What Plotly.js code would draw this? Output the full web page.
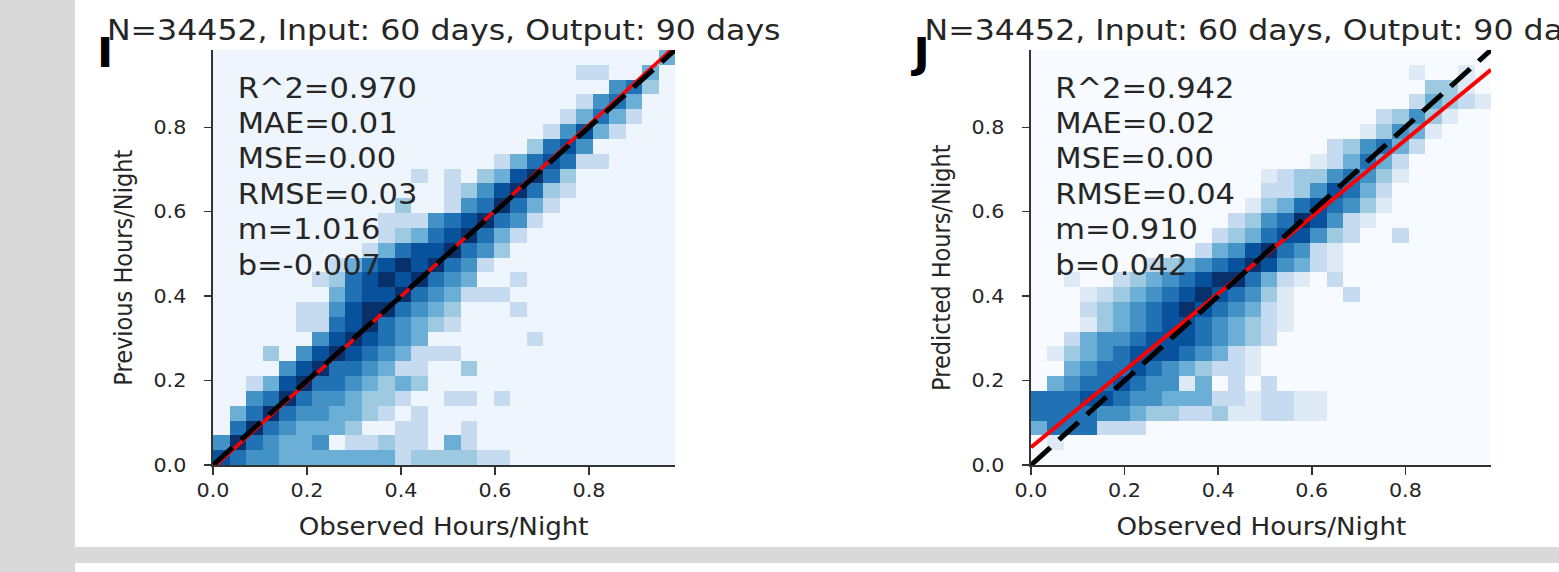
<!DOCTYPE html>
<html>
<head>
<meta charset="utf-8">
<script src="https://cdn.plot.ly/plotly-3.0.1.min.js"></script>
<style>
  html, body { margin: 0; padding: 0; }
  body { width: 1559px; height: 572px; overflow: hidden; position: relative; background: #d9d9d9; }
  .sheet { position: absolute; background: #ffffff; }
  #chart { position: absolute; left: 0; top: 0; width: 1430px; height: 572px;
           transform: scaleX(1.0902); transform-origin: 0 0; }
</style>
</head>
<body>
<div class="sheet" style="left:75px;top:0;width:1484px;height:547px;"></div>
<div class="sheet" style="left:75px;top:563px;width:1484px;height:9px;"></div>
<div id="chart"></div>
<script>
// 2-D histogram: 28 x 28 bins over [0, histMax] on both axes
const binCount = 28;
const histMax = 0.983;

const tickVals = [0, 0.2, 0.4, 0.6, 0.8];
const tickText = ['0.0', '0.2', '0.4', '0.6', '0.8'];

const titleText = 'N=34452, Input: 60 days, Output: 90 days';
const panelLetters = ['I', 'J'];
const xLabels = ['Observed Hours/Night', 'Observed Hours/Night'];
const yLabels = ['Previous Hours/Night', 'Predicted Hours/Night'];

// fit statistics printed in each panel
const statsI = ['R^2=0.970', 'MAE=0.01', 'MSE=0.00', 'RMSE=0.03', 'm=1.016', 'b=-0.007'];
const statsJ = ['R^2=0.942', 'MAE=0.02', 'MSE=0.00', 'RMSE=0.04', 'm=0.910', 'b=0.042'];
const slopeI = 1.016, interceptI = -0.007;
const slopeJ = 0.910, interceptJ = 0.042;

// density level per bin (0 = empty .. 8 = densest); row 0 is the bottom row
const densityI = [
  [7,6,5,5,4,4,4,4,4,4,4,2,3,3,3,3,2,2,0,0,0,0,0,0,0,0,0,0],
  [5,8,6,5,4,4,5,0,2,2,3,2,2,0,4,2,0,0,0,0,0,0,0,0,0,0,0,0],
  [0,6,8,6,5,4,4,4,3,0,0,2,2,0,0,2,0,0,0,0,0,0,0,0,0,0,0,0],
  [0,4,6,8,6,5,5,4,4,3,2,0,2,0,0,0,0,0,0,0,0,0,0,0,0,0,0,0],
  [0,0,5,6,8,6,5,5,4,3,3,2,0,0,2,2,0,2,0,0,0,0,0,0,0,0,0,0],
  [0,0,2,4,7,8,6,6,5,4,3,4,3,0,0,0,0,0,0,0,0,0,0,0,0,0,0,0],
  [0,0,0,0,5,7,8,6,6,5,4,2,2,0,0,3,0,0,0,0,0,0,0,0,0,0,0,0],
  [0,0,0,3,0,5,7,8,7,6,5,4,2,2,2,0,0,0,0,0,0,0,0,0,0,0,0,0],
  [0,0,0,0,0,0,5,7,8,7,6,5,4,0,0,0,0,0,0,2,0,0,0,0,0,0,0,0],
  [0,0,0,0,0,2,2,6,7,8,6,5,4,3,2,0,0,0,0,0,0,0,0,0,0,0,0,0],
  [0,0,0,0,0,2,2,5,7,8,8,6,5,4,3,0,0,0,2,0,0,0,0,0,0,0,0,0],
  [0,0,0,0,0,0,0,4,6,7,7,8,6,5,4,2,2,2,0,0,0,0,0,0,0,0,0,0],
  [0,0,0,0,0,0,2,3,6,7,8,7,8,6,5,4,0,0,2,0,0,0,0,0,0,0,0,0],
  [0,0,0,0,0,0,0,2,4,6,7,8,7,8,6,5,2,0,0,0,0,0,0,0,0,0,0,0],
  [0,0,0,0,0,0,0,0,0,2,4,6,7,7,8,6,5,3,0,0,0,0,0,0,0,0,0,0],
  [0,0,0,0,0,0,0,0,0,0,2,3,4,6,7,8,6,4,2,0,0,0,0,0,0,0,0,0],
  [0,0,0,0,0,0,0,0,0,0,2,2,2,5,6,7,8,6,5,2,0,0,0,0,0,0,0,0],
  [0,0,0,0,0,0,0,0,0,0,0,3,0,0,2,5,6,8,6,4,2,0,0,0,0,0,0,0],
  [0,0,0,0,0,0,0,0,0,0,0,0,0,0,2,3,5,7,8,6,3,2,0,0,0,0,0,0],
  [0,0,0,0,0,0,0,0,0,0,0,0,2,0,2,0,3,4,7,8,6,3,0,0,0,0,0,0],
  [0,0,0,0,0,0,0,0,0,0,0,0,0,0,0,0,0,2,4,6,7,6,2,2,0,0,0,0],
  [0,0,0,0,0,0,0,0,0,0,0,0,0,0,0,0,0,0,0,3,6,7,5,0,0,0,0,0],
  [0,0,0,0,0,0,0,0,0,0,0,0,0,0,0,0,0,0,0,0,2,5,7,4,2,0,0,0],
  [0,0,0,0,0,0,0,0,0,0,0,0,0,0,0,0,0,0,0,0,0,2,4,6,4,2,0,0],
  [0,0,0,0,0,0,0,0,0,0,0,0,0,0,0,0,0,0,0,0,0,0,2,5,6,4,0,0],
  [0,0,0,0,0,0,0,0,0,0,0,0,0,0,0,0,0,0,0,0,0,0,0,0,5,6,3,0],
  [0,0,0,0,0,0,0,0,0,0,0,0,0,0,0,0,0,0,0,0,0,0,2,2,0,0,4,0],
  [0,0,0,0,0,0,0,0,0,0,0,0,0,0,0,0,0,0,0,0,0,0,0,0,0,0,0,4]
];

const densityJ = [
  [0,0,0,0,0,0,0,0,0,0,0,0,0,0,0,0,0,0,0,0,0,0,0,0,0,0,0,0],
  [0,1,0,0,0,0,0,0,0,0,0,0,0,0,0,0,0,0,0,0,0,0,0,0,0,0,0,0],
  [4,6,6,6,2,2,2,0,0,0,0,0,0,0,0,0,0,0,0,0,0,0,0,0,0,0,0,0],
  [6,6,6,6,5,5,4,3,3,2,2,3,1,1,2,2,1,1,0,0,0,0,0,0,0,0,0,0],
  [6,6,6,7,7,6,5,5,4,4,4,2,2,1,2,2,1,1,0,0,0,0,0,0,0,0,0,0],
  [0,4,5,6,6,7,6,5,5,1,4,0,2,0,2,0,0,0,0,0,0,0,0,0,0,0,0,0],
  [0,0,4,5,6,6,7,6,5,4,3,2,2,1,0,0,0,0,0,0,0,0,0,0,0,0,0,0],
  [0,1,3,4,5,6,7,7,7,6,5,4,2,1,0,0,0,0,0,0,0,0,0,0,0,0,0,0],
  [0,0,2,4,5,5,6,7,7,7,6,5,4,3,2,0,0,0,0,0,0,0,0,0,0,0,0,0],
  [0,0,0,1,3,4,5,6,7,7,6,5,4,3,2,1,0,0,0,0,0,0,0,0,0,0,0,0],
  [0,0,0,2,3,4,5,6,7,8,7,6,5,4,2,1,0,0,0,0,0,0,0,0,0,0,0,0],
  [0,0,0,1,2,3,4,5,6,7,8,7,6,5,3,1,0,0,0,2,0,0,0,0,0,0,0,0],
  [0,0,1,0,0,2,3,4,5,6,7,8,8,6,4,2,1,0,2,0,0,0,0,0,0,0,0,0],
  [0,0,0,0,0,0,0,2,3,4,5,6,7,8,7,5,4,2,1,0,0,0,0,0,0,0,0,0],
  [0,0,0,0,0,0,0,0,0,0,2,4,5,7,8,6,5,2,1,0,0,0,0,0,0,0,0,0],
  [0,0,0,0,0,0,0,0,0,0,0,2,3,4,6,7,7,5,3,2,0,0,2,0,0,0,0,0],
  [0,0,0,0,0,0,0,0,0,0,0,0,2,3,5,6,8,7,5,2,1,0,0,0,0,0,0,0],
  [0,0,0,0,0,0,0,0,0,0,0,0,0,1,3,4,6,7,6,5,3,1,0,0,0,0,0,0],
  [0,0,0,0,0,0,0,0,0,0,0,0,0,0,2,2,3,5,7,6,4,2,0,0,0,0,0,0],
  [0,0,0,0,0,0,0,0,0,0,0,0,0,0,1,2,3,3,5,6,5,3,1,0,0,0,0,0],
  [0,0,0,0,0,0,0,0,0,0,0,0,0,0,0,0,0,1,2,4,6,4,2,0,0,0,0,0],
  [0,0,0,0,0,0,0,0,0,0,0,0,0,0,0,0,0,0,2,3,5,6,4,2,0,0,0,0],
  [0,0,0,0,0,0,0,0,0,0,0,0,0,0,0,0,0,0,0,0,1,3,5,4,1,0,0,0],
  [0,0,0,0,0,0,0,0,0,0,0,0,0,0,0,0,0,0,0,0,0,2,3,5,3,1,0,0],
  [0,0,0,0,0,0,0,0,0,0,0,0,0,0,0,0,0,0,0,0,0,0,0,2,4,3,2,1],
  [0,0,0,0,0,0,0,0,0,0,0,0,0,0,0,0,0,0,0,0,0,0,0,0,3,3,1,0],
  [0,0,0,0,0,0,0,0,0,0,0,0,0,0,0,0,0,0,0,0,0,0,0,1,0,0,1,0],
  [0,0,0,0,0,0,0,0,0,0,0,0,0,0,0,0,0,0,0,0,0,0,0,0,0,0,0,0]
];

// matplotlib "Blues"
function blues(first) {
  return [[0, first], [0.125, '#deebf7'], [0.25, '#c6dbef'], [0.375, '#9ecae1'],
          [0.5, '#6baed6'], [0.625, '#4292c6'], [0.75, '#2171b5'],
          [0.875, '#08519c'], [1, '#08306b']];
}

const W = 1559, H = 572;           // page pixels
const px = v => v / W;             // page x -> paper fraction
const py = v => 1 - v / H;         // page y -> paper fraction
const plotTop = 50, plotBottom = 465;
const panels = [
  { left: 213, right: 675, dens: densityI, scale: blues('#eef5fc'), stats: statsI,
    m: slopeI, b: interceptI, xa: 'x', ya: 'y', letterX: 95 },
  { left: 1031, right: 1491, dens: densityJ, scale: blues('#f7fbff'), stats: statsJ,
    m: slopeJ, b: interceptJ, xa: 'x2', ya: 'y2', letterX: 908 }
];

const binW = histMax / binCount;
const FONT = 'DejaVu Sans';
const INK = '#262626';

const traces = [];
const annotations = [];
const layout = {
  width: 1430, height: 572,
  margin: { l: 0, r: 0, t: 0, b: 0 },
  paper_bgcolor: 'rgba(0,0,0,0)',
  plot_bgcolor: 'rgba(0,0,0,0)',
  showlegend: false,
  font: { family: FONT, color: INK },
  annotations: annotations
};

panels.forEach((p, i) => {
  traces.push({
    type: 'heatmap', z: p.dens,
    x0: binW / 2, dx: binW, y0: binW / 2, dy: binW,
    zmin: 0, zmax: 8, colorscale: p.scale, showscale: false,
    hoverinfo: 'skip', xaxis: p.xa, yaxis: p.ya
  });
  // regression line
  traces.push({
    type: 'scatter', mode: 'lines', x: [0, histMax], y: [p.b, p.m * histMax + p.b],
    line: { color: '#ff0000', width: i === 0 ? 3.4 : 3.8 }, hoverinfo: 'skip',
    xaxis: p.xa, yaxis: p.ya
  });
  // identity line
  traces.push({
    type: 'scatter', mode: 'lines', x: [0, histMax], y: [0, histMax],
    line: { color: '#000000', width: 4.8, dash: '25px,11px' }, hoverinfo: 'skip',
    xaxis: p.xa, yaxis: p.ya
  });

  const axBase = {
    range: [0, histMax], tickvals: tickVals, ticktext: tickText,
    ticks: 'outside', tickcolor: '#333333', tickwidth: 1.5,
    showline: true, linecolor: '#333333', linewidth: 1.6,
    showgrid: false, zeroline: false, fixedrange: true,
    tickfont: { family: FONT, size: 19, color: INK }
  };
  const xName = i === 0 ? 'xaxis' : 'xaxis2';
  const yName = i === 0 ? 'yaxis' : 'yaxis2';
  layout[xName] = Object.assign({}, axBase, {
    domain: [px(p.left), px(p.right)], anchor: p.ya, ticklen: 8
  });
  layout[yName] = Object.assign({}, axBase, {
    domain: [py(plotBottom), py(plotTop)], anchor: p.xa, ticklen: 7,
    ticklabelstandoff: 12
  });

  const cx = (p.left + p.right) / 2;
  annotations.push({
    xref: 'paper', yref: 'paper', x: px(cx), y: py(30), xanchor: 'center', yanchor: 'middle',
    text: titleText, showarrow: false, font: { family: FONT, size: 29, color: INK }
  });
  annotations.push({
    xref: 'paper', yref: 'paper', x: px(p.letterX), y: py(53), xanchor: 'left', yanchor: 'middle',
    text: panelLetters[i], showarrow: false,
    font: { family: FONT, size: 40, color: '#000000', weight: 'bold' }
  });
  annotations.push({
    xref: 'paper', yref: 'paper', x: px(cx), y: py(527), xanchor: 'center', yanchor: 'middle',
    text: xLabels[i], showarrow: false, font: { family: FONT, size: 24, color: INK }
  });
  annotations.push({
    xref: 'paper', yref: 'paper', x: px(p.left - 90), y: py(268),
    xanchor: 'center', yanchor: 'middle', textangle: -90,
    text: yLabels[i], showarrow: false, font: { family: FONT, size: 22.5, color: INK }
  });
  p.stats.forEach((s, k) => {
    annotations.push({
      xref: 'paper', yref: 'paper', x: px(p.left + 22), y: py(88 + 35.4 * k),
      xanchor: 'left', yanchor: 'middle', text: s, showarrow: false,
      font: { family: FONT, size: 28, color: INK }
    });
  });
});

Plotly.newPlot('chart', traces, layout, { staticPlot: true, displayModeBar: false });
</script>
</body>
</html>
